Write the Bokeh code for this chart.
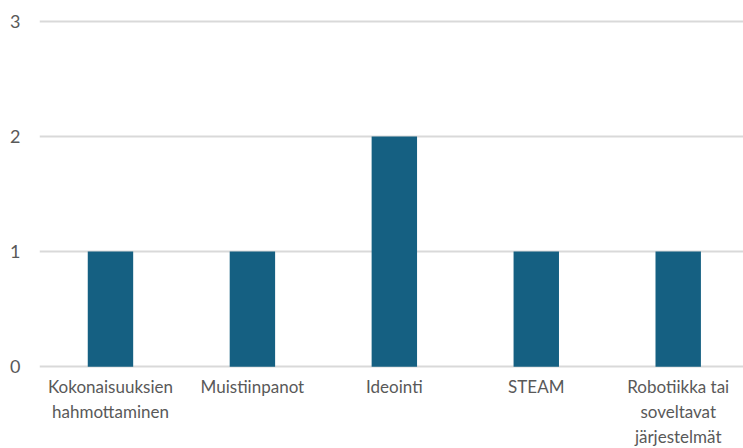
from bokeh.plotting import figure
from bokeh.models import ColumnDataSource, FixedTicker, Range1d
from bokeh.embed import file_html
from bokeh.resources import INLINE

categories = ["Kokonaisuuksien\nhahmottaminen", "Muistiinpanot", "Ideointi",
              "STEAM", "Robotiikka tai\nsoveltavat\njärjestelmät"]
values = [1, 1, 2, 1, 1]
y_ticks = [0, 1, 2, 3]

positions = list(range(len(categories)))
source = ColumnDataSource(data=dict(x=positions, top=values))

p = figure(frame_width=704, frame_height=357, output_backend="svg", toolbar_location=None,
           x_range=Range1d(-0.5, 4.46), y_range=Range1d(-0.05, 3.05),
           min_border_left=39, min_border_right=0, min_border_top=15,
           min_border_bottom=0)
p.outline_line_color = None
p.background_fill_color = "white"
p.border_fill_color = "white"

p.vbar(x="x", top="top", width=0.32, bottom=0, source=source,
       fill_color="#156082", line_color=None)

# axes
p.xaxis.ticker = FixedTicker(ticks=positions)
p.xaxis.major_label_overrides = {i: c for i, c in enumerate(categories)}
p.yaxis.ticker = FixedTicker(ticks=y_ticks)
for ax in (p.xaxis[0], p.yaxis[0]):
    ax.axis_line_color = None
    ax.major_tick_line_color = None
    ax.minor_tick_line_color = None
    ax.major_label_text_font = "Lato"
    ax.major_label_text_font_size = "17px"
    ax.major_label_text_color = "#595959"
p.yaxis.major_label_text_font_size = "18px"
p.xaxis.major_label_standoff = -3
p.yaxis.major_label_standoff = 13

p.xgrid.grid_line_color = None
p.ygrid.ticker = FixedTicker(ticks=y_ticks)
p.ygrid.grid_line_color = "#d9d9d9"
p.ygrid.grid_line_width = 2

open("out.html", "w").write(file_html(p, INLINE))
